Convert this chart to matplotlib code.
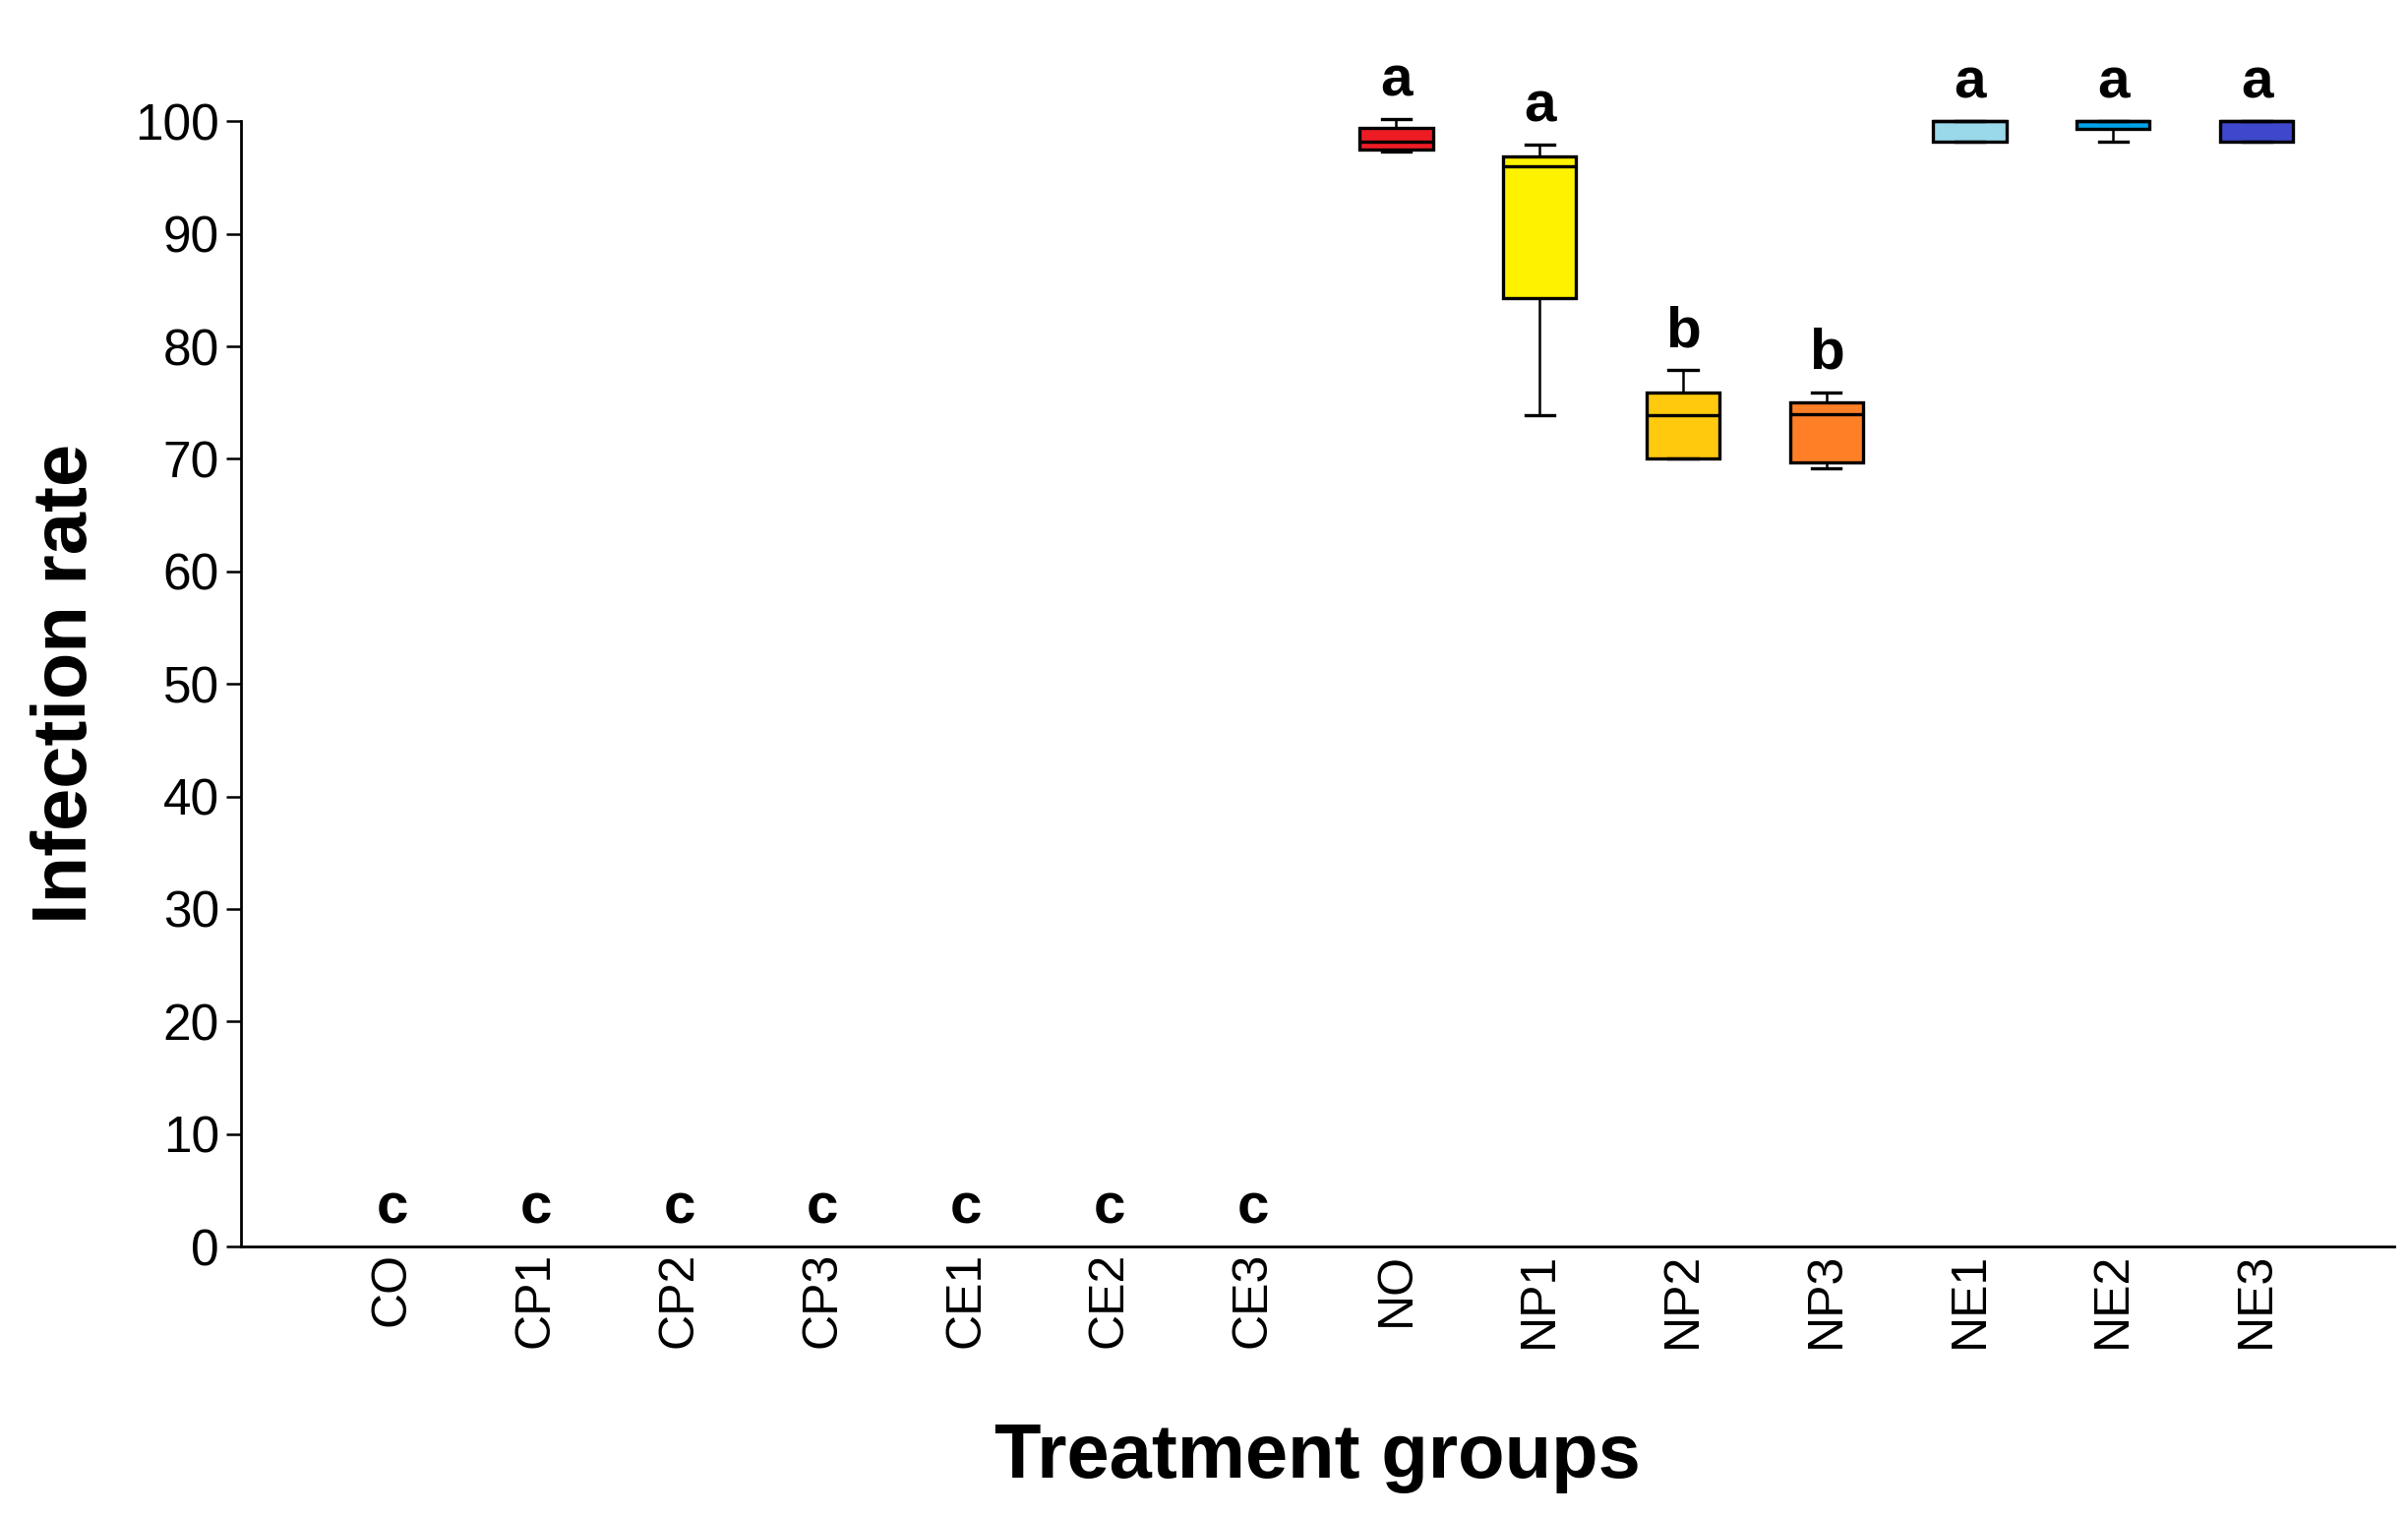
import matplotlib
matplotlib.use('Agg')
from matplotlib import pyplot as plt

plt.rcParams['font.family'] = ['Liberation Sans', 'DejaVu Sans']

groups = ['CO', 'CP1', 'CP2', 'CP3', 'CE1', 'CE2', 'CE3',
          'NO', 'NP1', 'NP2', 'NP3', 'NE1', 'NE2', 'NE3']
letters = ['c', 'c', 'c', 'c', 'c', 'c', 'c',
           'a', 'a', 'b', 'b', 'a', 'a', 'a']

# boxes only for infected groups (control groups are all 0)
box_groups = ['NO', 'NP1', 'NP2', 'NP3', 'NE1', 'NE2', 'NE3']
whislo = [97.3, 73.9, 70.0, 69.2, 98.2, 98.2, 98.2]
q1 = [97.5, 84.3, 70.0, 69.7, 98.2, 99.3, 98.2]
med = [98.2, 96.0, 73.9, 74.0, 100.0, 100.0, 100.0]
q3 = [99.4, 96.9, 75.9, 75.0, 100.0, 100.0, 100.0]
whishi = [100.2, 97.9, 77.9, 75.9, 100.0, 100.0, 100.0]
colors = ['#ED1C24', '#FFF200', '#FFC90E', '#FF7F27', '#99D9EA', '#00A2E8', '#3F48CC']

fig = plt.figure(figsize=(24.48, 15.42), dpi=100)
ax = fig.add_axes([0.1001, 0.1783, 0.8942, 0.7417])

stats = []
for i, g in enumerate(box_groups):
    stats.append(dict(label=g, whislo=whislo[i], q1=q1[i], med=med[i],
                      q3=q3[i], whishi=whishi[i], fliers=[]))
pos = [groups.index(g) for g in box_groups]
bp = ax.bxp(stats, positions=pos, widths=0.51, capwidths=0.2, patch_artist=True,
            showfliers=False, manage_ticks=False,
            boxprops=dict(linewidth=2.4, edgecolor='black'),
            medianprops=dict(color='black', linewidth=2.4),
            whiskerprops=dict(color='black', linewidth=1.8),
            capprops=dict(color='black', linewidth=2.4))
for patch, c in zip(bp['boxes'], colors):
    patch.set_facecolor(c)
for k in ['boxes', 'medians', 'whiskers', 'caps']:
    for a in bp[k]:
        a.set_clip_on(False)

# significance letters
for i, g in enumerate(groups):
    top = 0
    if g in box_groups:
        top = whishi[box_groups.index(g)]
    ax.text(i, top + 2.1, letters[i], ha='center', va='baseline',
            fontsize=42, fontweight='bold')

ax.set_xlim(-1.056, 13.96)
ax.set_ylim(0, 100)
ax.set_yticks(range(0, 101, 10))
ax.set_xticks(range(len(groups)))
ax.set_xticklabels(groups, rotation=90, fontsize=36)
ax.tick_params(axis='x', length=0, pad=4)
ax.tick_params(axis='y', length=11, width=1.8, labelsize=37, pad=5)

ax.spines['top'].set_visible(False)
ax.spines['right'].set_visible(False)
ax.spines['left'].set_linewidth(2)
ax.spines['bottom'].set_linewidth(2)

ax.set_ylabel('Infection rate', fontsize=56, fontweight='bold', labelpad=24)
ax.set_xlabel('Treatment groups', fontsize=56, fontweight='bold', labelpad=54)

fig.savefig('out.png', dpi=100)
